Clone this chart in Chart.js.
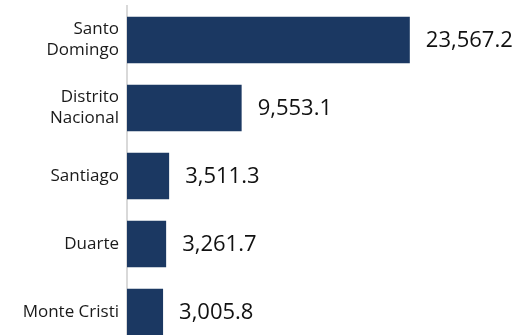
<!DOCTYPE html>
<html>
<head>
<meta charset="utf-8">
<script src="https://cdn.jsdelivr.net/npm/chart.js@4"></script>
<style>
  body { margin: 0; overflow: hidden; background: #fff; }
  #wrap { width: 525px; height: 346px; position: relative; }
</style>
</head>
<body>
<div id="wrap"><canvas id="barChart"></canvas></div>
<script>
// provinces and values
const provinces = [["Santo", "Domingo"], ["Distrito", "Nacional"], "Santiago", "Duarte", "Monte Cristi"];
const values = [23567.2, 9553.1, 3511.3, 3261.7, 3005.8];
const valueLabels = ["23,567.2", "9,553.1", "3,511.3", "3,261.7", "3,005.8"];

// draw the numbers right of each bar
const valueLabelPlugin = {
  id: "valueLabels",
  afterDatasetsDraw(chart) {
    const ctx = chart.ctx;
    const meta = chart.getDatasetMeta(0);
    ctx.save();
    ctx.font = "22px 'Open Sans'";
    ctx.fillStyle = "#111";
    ctx.textAlign = "left";
    ctx.textBaseline = "middle";
    meta.data.forEach(function (bar, i) {
      ctx.fillText(valueLabels[i], bar.x + 16, bar.y + 1);
    });
    ctx.restore();
  },
};

const ctx = document.getElementById("barChart").getContext("2d");
const chart = new Chart(ctx, {
  type: "bar",
  data: {
    labels: provinces,
    datasets: [
      {
        data: values,
        backgroundColor: "#1b3862",
        barPercentage: 0.685,
        categoryPercentage: 1,
      },
    ],
  },
  options: {
    indexAxis: "y",
    responsive: true,
    maintainAspectRatio: false,
    animation: false,
    layout: { padding: { top: 6, right: 2, left: 0, bottom: 0 } },
    plugins: {
      legend: { display: false },
      tooltip: { enabled: false },
    },
    scales: {
      x: {
        display: false,
        min: 0,
        max: 33000,
      },
      y: {
        afterFit(scale) {
          scale.width = 127;
          // no extra room for the half-height of first/last labels
          scale.paddingTop = 0;
          scale.paddingBottom = 0;
        },
        grid: { display: false, drawTicks: false },
        border: { display: true, color: "#d9d9d9", width: 2 },
        ticks: {
          color: "#1a1a1a",
          padding: 8,
          font: { family: "'Open Sans'", size: 17, lineHeight: 1.25 },
        },
      },
    },
  },
  plugins: [valueLabelPlugin],
});
</script>
</body>
</html>
